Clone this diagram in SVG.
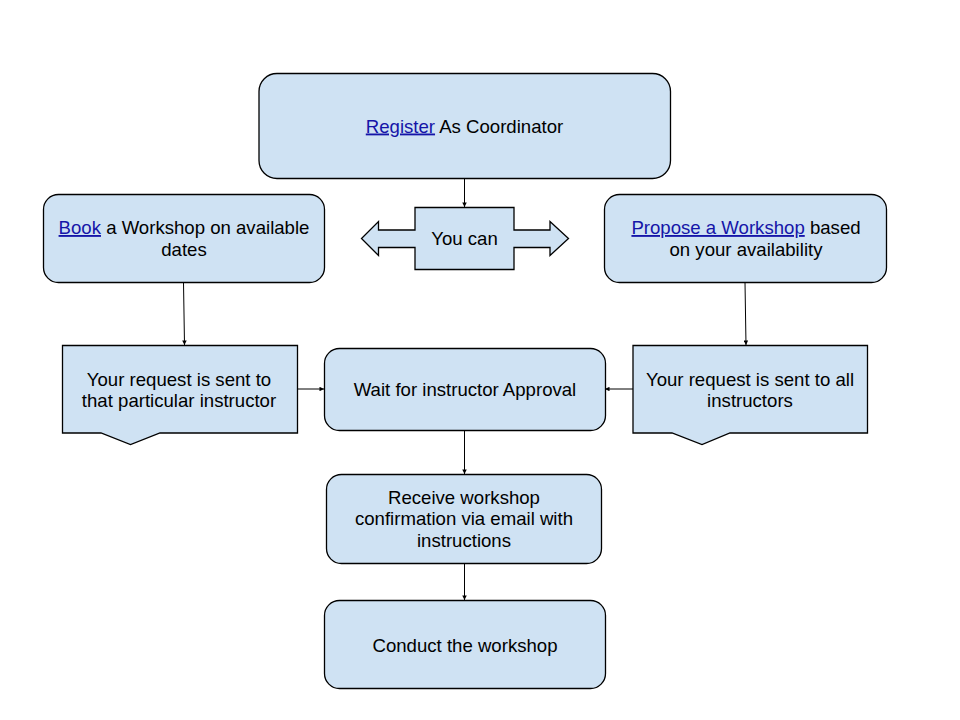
<svg xmlns="http://www.w3.org/2000/svg" width="960" height="720" viewBox="0 0 960 720">
<defs>
<style>
.box{fill:#cfe2f3;stroke:#000;stroke-width:1.3}
.t{font-family:"Liberation Sans",Arial,sans-serif;font-size:18.6px;fill:#000;text-anchor:middle}
.lk{fill:#1515a8;text-decoration:underline}
.c{stroke:#000;stroke-width:1;fill:none}
</style>
<marker id="ah" viewBox="0 0 10 10" refX="10" refY="5" markerWidth="5" markerHeight="4.5" markerUnits="userSpaceOnUse" orient="auto">
<path d="M0,0 L10,5 L0,10 Z" fill="#000"/>
</marker>
</defs>
<rect width="960" height="720" fill="#fff"/>
<g id="connectors">
<line class="c" x1="464.5" y1="178" x2="464.5" y2="207" marker-end="url(#ah)"/>
<line class="c" x1="183.5" y1="282.5" x2="184.5" y2="345" marker-end="url(#ah)"/>
<line class="c" x1="745" y1="282.5" x2="746" y2="345" marker-end="url(#ah)"/>
<line class="c" x1="297" y1="389" x2="324" y2="389" marker-end="url(#ah)"/>
<line class="c" x1="633" y1="389" x2="605" y2="389" marker-end="url(#ah)"/>
<line class="c" x1="464.5" y1="430" x2="464.5" y2="474" marker-end="url(#ah)"/>
<line class="c" x1="464.5" y1="563.5" x2="464.5" y2="600" marker-end="url(#ah)"/>
</g>
<g id="register">
<rect class="box" x="259" y="73.5" width="411.5" height="105" rx="18"/>
<text class="t" x="464.5" y="132.5"><tspan class="lk">Register</tspan> As Coordinator</text>
</g>
<g id="book">
<rect class="box" x="43.5" y="194.5" width="281" height="88" rx="15"/>
<text class="t" x="184" y="234"><tspan class="lk">Book</tspan> a Workshop on available</text>
<text class="t" x="184" y="255.5">dates</text>
</g>
<g id="youcan">
<path class="box" d="M415,207.5 H514 V230 H550 V221.5 L568.5,238.5 L550,255.5 V247.5 H514 V269.5 H415 V247.5 H378.5 V255.5 L361.5,238.5 L378.5,221.5 V230 H415 Z"/>
<text class="t" x="464.5" y="244.5">You can</text>
</g>
<g id="propose">
<rect class="box" x="604.5" y="194.5" width="282" height="88" rx="15"/>
<text class="t" x="746" y="234"><tspan class="lk">Propose a Workshop</tspan> based</text>
<text class="t" x="746" y="255.5">on your availability</text>
</g>
<g id="sent-one">
<path class="box" d="M62.5,345.5 H297.5 V433 H160 L130.5,444.5 L101,433 H62.5 Z"/>
<text class="t" x="179" y="385.5">Your request is sent to</text>
<text class="t" x="179" y="407">that particular instructor</text>
</g>
<g id="wait">
<rect class="box" x="324.5" y="348.5" width="281" height="82" rx="15"/>
<text class="t" x="465" y="396">Wait for instructor Approval</text>
</g>
<g id="sent-all">
<path class="box" d="M633,345.5 H867.5 V433 H730 L702,444.5 L672,433 H633 Z"/>
<text class="t" x="750" y="385.5">Your request is sent to all</text>
<text class="t" x="750" y="407">instructors</text>
</g>
<g id="receive">
<rect class="box" x="326.5" y="474.5" width="275" height="89" rx="15"/>
<text class="t" x="464" y="503.5">Receive workshop</text>
<text class="t" x="464" y="525">confirmation via email with</text>
<text class="t" x="464" y="546.5">instructions</text>
</g>
<g id="conduct">
<rect class="box" x="324.5" y="600.5" width="281" height="88" rx="15"/>
<text class="t" x="465" y="651.5">Conduct the workshop</text>
</g>
</svg>
